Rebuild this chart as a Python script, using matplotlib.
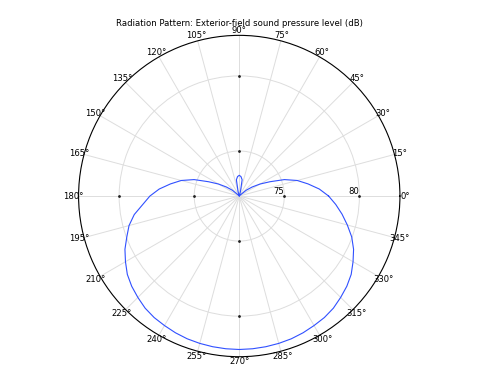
import numpy as np
import matplotlib
matplotlib.use("Agg")
import matplotlib.pyplot as plt

title = "Radiation Pattern: Exterior-field sound pressure level (dB)"

# angle (degrees, counter-clockwise from +x) and sound pressure level (dB)
angles_deg = list(range(0, 365, 5))
spl_db = [
    77.95, 77.35, 76.65, 76.00, 75.20, 74.25, 73.60, 73.05, 72.60, 72.10,
    72.00, 72.00, 72.00, 72.00, 72.00, 72.30, 73.10, 73.30, 73.38, 73.30,
    73.10, 72.30, 72.00, 72.00, 72.00, 72.00, 72.00, 72.10, 72.60, 73.05,
    73.60, 74.25, 75.20, 76.00, 76.65, 77.35, 77.95, 78.45, 79.10, 79.60,
    79.97, 80.40, 80.75, 81.10, 81.35, 81.55, 81.75, 81.88, 81.96, 82.05,
    82.12, 82.16, 82.19, 82.21, 82.22, 82.21, 82.19, 82.16, 82.12, 82.05,
    81.96, 81.88, 81.75, 81.55, 81.35, 81.10, 80.75, 80.40, 79.97, 79.45,
    78.95, 78.45, 77.95,
]

theta_ticks = list(range(0, 360, 15))
theta_labels = [f"{a}°" for a in theta_ticks]
r_ticks = [75, 80]
r_tick_labels = ["75", "80"]
r_limits = (72.0, 82.7)
mark_angles = [0, 90, 180, 270]

FS = 6.1
fig = plt.figure(figsize=(4.79, 3.66), dpi=100)
ax = fig.add_axes([0.164, 0.0254, 0.671, 0.878], projection="polar")

ax.plot(np.deg2rad(angles_deg), spl_db, color="#3050ff", lw=0.8)

ax.set_rlim(*r_limits)
ax.set_rticks(r_ticks)
ax.set_yticklabels([])
ax.set_thetagrids(theta_ticks, theta_labels, fontsize=FS)
ax.tick_params(axis="x", pad=-3.2, length=0)
ax.tick_params(axis="y", length=0)
ax.grid(True, color="#dddddd", lw=0.7)
ax.spines["polar"].set_color("black")
ax.spines["polar"].set_linewidth(0.8)

for r, lab in zip(r_ticks, r_tick_labels):
    ax.text(0, r, lab, fontsize=FS, ha="right", va="bottom")
    ax.plot(np.deg2rad(mark_angles), [r] * len(mark_angles), ls="none",
            marker="o", ms=1.0, color="#222222")

fig.text(0.499, 1 - 23 / 366, title, fontsize=FS, ha="center", va="center")

fig.savefig("out.png", dpi=100)
